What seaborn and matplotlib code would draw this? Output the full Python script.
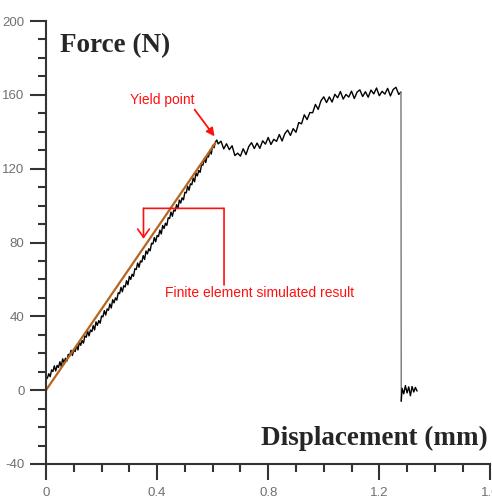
import numpy as np
import pandas as pd
import seaborn as sns
import matplotlib
matplotlib.use("Agg")
import matplotlib.pyplot as plt
from matplotlib.ticker import MultipleLocator, FuncFormatter

disp = [0.000, 0.005, 0.010, 0.015, 0.020, 0.025, 0.030, 0.035, 0.040, 0.045,
        0.050, 0.055, 0.060, 0.065, 0.070, 0.075, 0.080, 0.085, 0.090, 0.095,
        0.100, 0.105, 0.110, 0.115, 0.120, 0.125, 0.130, 0.135, 0.140, 0.145,
        0.150, 0.155, 0.160, 0.165, 0.170, 0.175, 0.180, 0.185, 0.190, 0.195,
        0.200, 0.205, 0.210, 0.215, 0.220, 0.225, 0.230, 0.235, 0.240, 0.245,
        0.250, 0.255, 0.260, 0.265, 0.270, 0.275, 0.280, 0.285, 0.290, 0.295,
        0.300, 0.305, 0.310, 0.315, 0.320, 0.325, 0.330, 0.335, 0.340, 0.345,
        0.350, 0.355, 0.360, 0.365, 0.370, 0.375, 0.380, 0.385, 0.390, 0.395,
        0.400, 0.405, 0.410, 0.415, 0.420, 0.425, 0.430, 0.435, 0.440, 0.445,
        0.450, 0.455, 0.460, 0.465, 0.470, 0.475, 0.480, 0.485, 0.490, 0.495,
        0.500, 0.505, 0.510, 0.515, 0.520, 0.525, 0.530, 0.535, 0.540, 0.545,
        0.550, 0.555, 0.560, 0.565, 0.570, 0.575, 0.580, 0.585, 0.590, 0.595,
        0.600, 0.605, 0.610, 0.615,
        0.62, 0.63, 0.64, 0.65, 0.66, 0.67, 0.68, 0.69,
        0.70, 0.71, 0.72, 0.73, 0.74, 0.75, 0.76, 0.77, 0.78, 0.79,
        0.80, 0.81, 0.82, 0.83, 0.84, 0.85, 0.86, 0.87, 0.88, 0.89,
        0.90, 0.91, 0.92, 0.93, 0.94, 0.95, 0.96, 0.97, 0.98, 0.99,
        1.00, 1.01, 1.02, 1.03, 1.04, 1.05, 1.06, 1.07, 1.08, 1.09,
        1.10, 1.11, 1.12, 1.13, 1.14, 1.15, 1.16, 1.17, 1.18, 1.19,
        1.20, 1.21, 1.22, 1.23, 1.24, 1.25, 1.26, 1.27, 1.278]
force = [6.0, 6.5, 8.9, 7.3, 11.0, 10.1, 13.2, 10.4, 13.4, 12.3,
         15.4, 12.8, 17.0, 14.9, 17.3, 15.7, 19.4, 18.5, 21.6, 18.8,
         21.8, 20.9, 24.2, 21.8, 26.2, 24.3, 26.9, 25.5, 29.4, 28.7,
         32.0, 29.4, 32.6, 31.7, 35.0, 32.6, 37.0, 35.1, 37.7, 36.3,
         40.2, 39.7, 43.1, 40.7, 44.0, 43.3, 46.7, 44.5, 49.0, 47.3,
         50.0, 48.8, 52.8, 52.3, 55.7, 53.3, 56.6, 55.9, 59.3, 57.1,
         61.6, 60.0, 62.8, 61.7, 65.8, 65.4, 68.9, 66.6, 70.0, 69.4,
         72.9, 70.8, 75.4, 73.8, 76.6, 75.5, 79.6, 79.2, 82.7, 80.4,
         83.8, 83.2, 86.7, 84.6, 89.2, 87.6, 90.4, 89.3, 93.4, 93.0,
         96.5, 94.2, 97.6, 97.0, 100.5, 98.4, 103.0, 101.4, 104.2, 103.1,
         107.2, 106.9, 110.5, 108.3, 111.8, 111.3, 114.9, 112.9, 117.6, 116.1,
         119.0, 118.0, 122.2, 121.9, 125.5, 123.3, 126.8, 126.3, 129.9, 127.9,
         132.6, 131.3, 134.5, 135.5,
         133.4, 134.9, 130.7, 133.5, 130.3, 132.4, 127.1, 128.4,
         126.8, 130.8, 127.6, 132.0, 134.1, 130.9, 133.9, 131.0, 135.1, 133.3,
         136.9, 133.1, 135.9, 134.8, 138.5, 135.0, 139.0, 140.9, 138.0, 141.7,
         139.7, 145.0, 144.3, 149.2, 146.6, 150.4, 150.3, 154.8, 152.1, 156.8,
         158.9, 155.8, 158.9, 156.1, 160.3, 158.4, 161.8, 157.7, 160.2, 158.8,
         162.0, 158.0, 161.5, 162.7, 159.1, 161.7, 158.7, 162.6, 160.5, 163.7,
         159.5, 161.9, 160.4, 163.5, 159.4, 162.9, 164.1, 160.2, 161.5]

# after the break
tail_disp = [1.279, 1.282, 1.288, 1.294, 1.300, 1.306, 1.312, 1.318, 1.324,
             1.330, 1.336]
tail_force = [-6.0, 1.0, -2.0, 2.5, -1.5, 1.8, -3.0, 2.0, -1.0, 1.5, -0.5]

# finite element simulated result (straight line)
fe_disp = [0.0, 0.61]
fe_force = [0.0, 134.0]

x_ticks = [0, 0.4, 0.8, 1.2, 1.6]
y_ticks = [-40, 0, 40, 80, 120, 160, 200]

sns.set_theme(style="ticks")
plt.rcParams['font.family'] = ['Liberation Sans', 'DejaVu Sans']

df = pd.DataFrame({'disp': disp, 'force': force})
df_tail = pd.DataFrame({'disp': tail_disp, 'force': tail_force})
df_drop = pd.concat([df.iloc[[-1]], df_tail.iloc[[0]]])
df_fe = pd.DataFrame({'disp': fe_disp, 'force': fe_force})

fig = plt.figure(figsize=(4.92, 5.01), dpi=100)
ax = fig.add_axes([46 / 492, 37 / 501, 444.4 / 492, 443 / 501])

sns.lineplot(data=df, x='disp', y='force', sort=False, estimator=None,
             color='black', linewidth=1.0, ax=ax)
sns.lineplot(data=df_drop, x='disp', y='force', sort=False, estimator=None,
             color='#777777', linewidth=1.0, ax=ax)
sns.lineplot(data=df_tail, x='disp', y='force', sort=False, estimator=None,
             color='black', linewidth=1.0, ax=ax)
sns.lineplot(data=df_fe, x='disp', y='force', sort=False, estimator=None,
             color='#b5651d', linewidth=1.6, ax=ax)

ax.set_xlim(0, 1.6)
ax.set_ylim(-40, 200)
ax.set_xlabel('')
ax.set_ylabel('')
ax.set_xticks(x_ticks)
ax.set_yticks(y_ticks)
ax.xaxis.set_minor_locator(MultipleLocator(0.1))
ax.yaxis.set_minor_locator(MultipleLocator(10))
fmt = FuncFormatter(lambda v, p: f"{v:g}")
ax.xaxis.set_major_formatter(fmt)
ax.yaxis.set_major_formatter(fmt)

sns.despine(ax=ax)
for s in ['left', 'bottom']:
    ax.spines[s].set_color('#333333')
    ax.spines[s].set_linewidth(1.5)
ax.tick_params(which='major', length=11.5, width=1.5, color='#333333',
               labelsize=9.5, labelcolor='#707070', pad=4)
ax.tick_params(which='minor', length=6, width=1.5, color='#333333')
ax.tick_params(axis='x', which='major', pad=5)

serif = ['Liberation Serif', 'DejaVu Serif']
ax.text(0.05, 183.2, 'Force (N)', family=serif, fontweight='bold',
        fontsize=19.5, ha='left', va='baseline')
ax.text(1.591, -29.9, 'Displacement (mm)', family=serif, fontweight='bold',
        fontsize=19.5, ha='right', va='baseline')

red = '#ff1010'
ax.text(0.302, 155, 'Yield point', color=red, fontsize=10,
        ha='left', va='baseline')
ax.annotate('', xy=(0.607, 137.5), xytext=(0.535, 152),
            arrowprops=dict(arrowstyle='-|>', color=red, lw=1.3,
                            mutation_scale=12, shrinkA=0, shrinkB=0))

ax.text(0.428, 50.3, 'Finite element simulated result', color=red,
        fontsize=10, ha='left', va='baseline')
ax.annotate('', xy=(0.641, 98.5), xytext=(0.351, 98.5),
            arrowprops=dict(arrowstyle='-', color=red, lw=1.2,
                            shrinkA=0, shrinkB=0))
ax.annotate('', xy=(0.641, 57), xytext=(0.641, 98.5),
            arrowprops=dict(arrowstyle='-', color=red, lw=1.2,
                            shrinkA=0, shrinkB=0))
ax.annotate('', xy=(0.351, 82), xytext=(0.351, 98.5),
            arrowprops=dict(arrowstyle='->,head_length=0.5,head_width=0.35',
                            color=red, lw=1.2, shrinkA=0, shrinkB=0))

fig.savefig('out.png', dpi=100)
